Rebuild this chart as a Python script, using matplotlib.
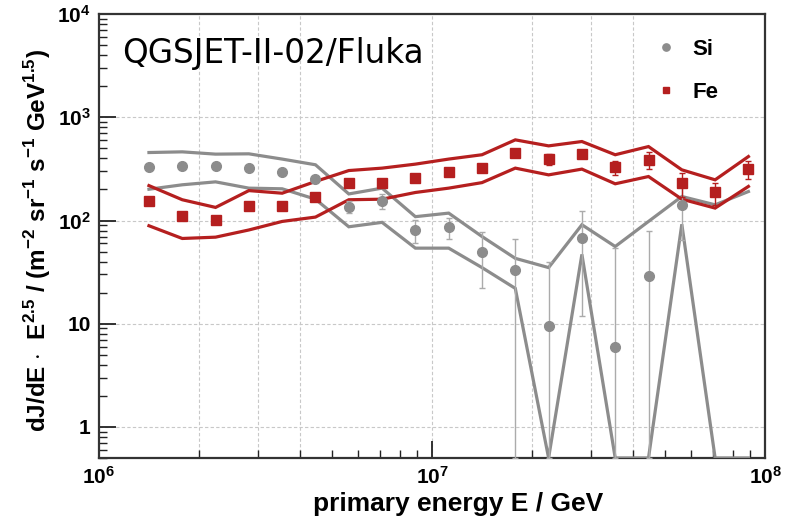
import numpy as np
import matplotlib
matplotlib.use("Agg")
import matplotlib.pyplot as plt
from matplotlib.ticker import FixedLocator, NullFormatter

# log10(E / GeV) bin centres
log_energy = [6.15, 6.25, 6.35, 6.45, 6.55, 6.65, 6.75, 6.85, 6.95, 7.05,
              7.15, 7.25, 7.35, 7.45, 7.55, 7.65, 7.75, 7.85, 7.95]

# Si: unfolded flux (nan = no entry), errors and systematic band
si_flux = [327, 341, 334, 322, 297, 252, 135, 154, 81, 86,
           50, 33, 9.5, 68, 6.0, 29, 140, np.nan, np.nan]
si_err = [12, 12, 12, 12, 14, 18, 18, 25, 20, 20,
          28, 33, 30, 56, 48, 50, 75, np.nan, np.nan]
si_band_hi = [456, 463, 440, 443, 394, 347, 181, 206, 109, 118,
              70, 43, 35, 91, 56, 98, 171, 142, 191]
si_band_lo = [201, 222, 237, 206, 203, 161, 87, 96, 54, 54,
              35, 22, 0, 47, 0, 0, 92, 0, 0]

# Fe: unfolded flux, errors and systematic band
fe_flux = [153, 111, 102, 139, 139, 169, 230, 233, 261, 294,
           322, 456, 396, 443, 327, 387, 230, 187, 315]
fe_err = [6, 6, 6, 7, 7, 8, 10, 10, 12, 14,
          16, 25, 50, 30, 50, 70, 60, 45, 65]
fe_band_hi = [218, 159, 134, 195, 184, 239, 305, 322, 352, 394,
              434, 605, 529, 583, 434, 521, 310, 248, 417]
fe_band_lo = [89, 67, 69, 81, 98, 108, 159, 161, 187, 206,
              233, 322, 277, 315, 227, 267, 161, 132, 214]

YMIN, YMAX = 0.5, 1e4
GREY = "#8c8c8c"
GREY_ERR = "#ababab"
RED = "#b51f1f"

plt.rcParams["font.family"] = ["Liberation Sans", "DejaVu Sans"]
plt.rcParams["mathtext.fontset"] = "custom"
plt.rcParams["mathtext.rm"] = "Liberation Sans:bold"
plt.rcParams["mathtext.bf"] = "Liberation Sans:bold"

fig = plt.figure(figsize=(7.92, 5.24), dpi=100)
ax = fig.add_axes([0.125, 0.126, 0.841, 0.847])
ax.set_xscale("log")
ax.set_yscale("log")
ax.set_xlim(1e6, 1e8)
ax.set_ylim(YMIN, YMAX)

energy = 10 ** np.array(log_energy)

# dashed grid
for gx in [2e6, 3e6, 4e6, 1e7, 2e7, 3e7, 4e7]:
    ax.axvline(gx, color="#c8c8c8", lw=0.8, ls=(0, (3, 2)), zorder=0)
for gy in [1, 10, 100, 1000]:
    ax.axhline(gy, color="#c8c8c8", lw=0.8, ls=(0, (3, 2)), zorder=0)


def clipped(vals):
    return np.maximum(np.asarray(vals, dtype=float), YMIN)


def draw_species(flux, err, hi, lo, color, marker, ecolor, label, ms):
    flux = np.asarray(flux, dtype=float)
    err = np.asarray(err, dtype=float)
    ax.plot(energy, clipped(hi), color=color, lw=2.3, zorder=3,
            solid_joinstyle="miter")
    ax.plot(energy, clipped(lo), color=color, lw=2.3, zorder=3,
            solid_joinstyle="miter")
    low = np.maximum(flux - err, YMIN)
    yerr = np.vstack([flux - low, err])
    ax.errorbar(energy, flux, yerr=yerr, fmt="none", ecolor=ecolor,
                elinewidth=1.0, capsize=2.5, capthick=1.0, zorder=4)
    ax.plot(energy, flux, ls="none", marker=marker, ms=ms, color=color,
            mec=color, zorder=5, label=label)


draw_species(si_flux, si_err, si_band_hi, si_band_lo, GREY, "o",
             GREY_ERR, "Si", 7.0)
draw_species(fe_flux, fe_err, fe_band_hi, fe_band_lo, RED, "s",
             RED, "Fe", 6.5)

# axes frame and ticks
for side in ["left", "bottom", "right", "top"]:
    ax.spines[side].set_linewidth(1.6)
    ax.spines[side].set_color("#333333")

ax.xaxis.set_major_locator(FixedLocator([1e6, 1e7, 1e8]))
ax.xaxis.set_minor_locator(FixedLocator(
    [m * 10 ** e for e in (6, 7) for m in range(2, 10)]))
ax.yaxis.set_major_locator(FixedLocator([1, 10, 100, 1000, 1e4]))
ax.yaxis.set_minor_locator(FixedLocator(
    [m * 10 ** e for e in (-1, 0, 1, 2, 3) for m in range(2, 10)
     if YMIN <= m * 10 ** e <= YMAX]))
ax.xaxis.set_minor_formatter(NullFormatter())
ax.yaxis.set_minor_formatter(NullFormatter())
ax.set_xticklabels([r"$\mathbf{10^{6}}$", r"$\mathbf{10^{7}}$",
                    r"$\mathbf{10^{8}}$"])
ax.set_yticklabels(["1", "10", r"$\mathbf{10^{2}}$", r"$\mathbf{10^{3}}$",
                    r"$\mathbf{10^{4}}$"])
ax.tick_params(axis="both", which="major", direction="in", length=12,
               width=1.3, color="#222222", labelsize=15, pad=6,
               top=False, right=False)
ax.tick_params(axis="both", which="minor", direction="in", length=6,
               width=1.0, color="#222222", top=False, right=False)
for lab in ax.get_xticklabels() + ax.get_yticklabels():
    lab.set_fontweight("bold")

ax.set_xlabel("primary energy E / GeV", fontsize=19, fontweight="bold")
ax.xaxis.set_label_coords(0.539, -0.077)
ax.set_ylabel(r"dJ/dE $\cdot$  E$^{2.5}$ / (m$^{-2}$ sr$^{-1}$ s$^{-1}$ GeV$^{1.5}$)",
              fontsize=17.5, fontweight="bold")
ax.yaxis.set_label_coords(-0.069, 0.489)

ax.text(0.035, 0.89, "QGSJET-II-02/Fluka", transform=ax.transAxes,
        fontsize=23.5, family="DejaVu Sans", color="black", va="baseline")

leg = ax.legend(loc="upper right", bbox_to_anchor=(0.96, 0.99),
                frameon=False, markerscale=0.75,
                handlelength=1.2, handletextpad=0.6, labelspacing=1.0,
                prop={"weight": "bold", "size": 16})

fig.savefig("out.png", dpi=100)
